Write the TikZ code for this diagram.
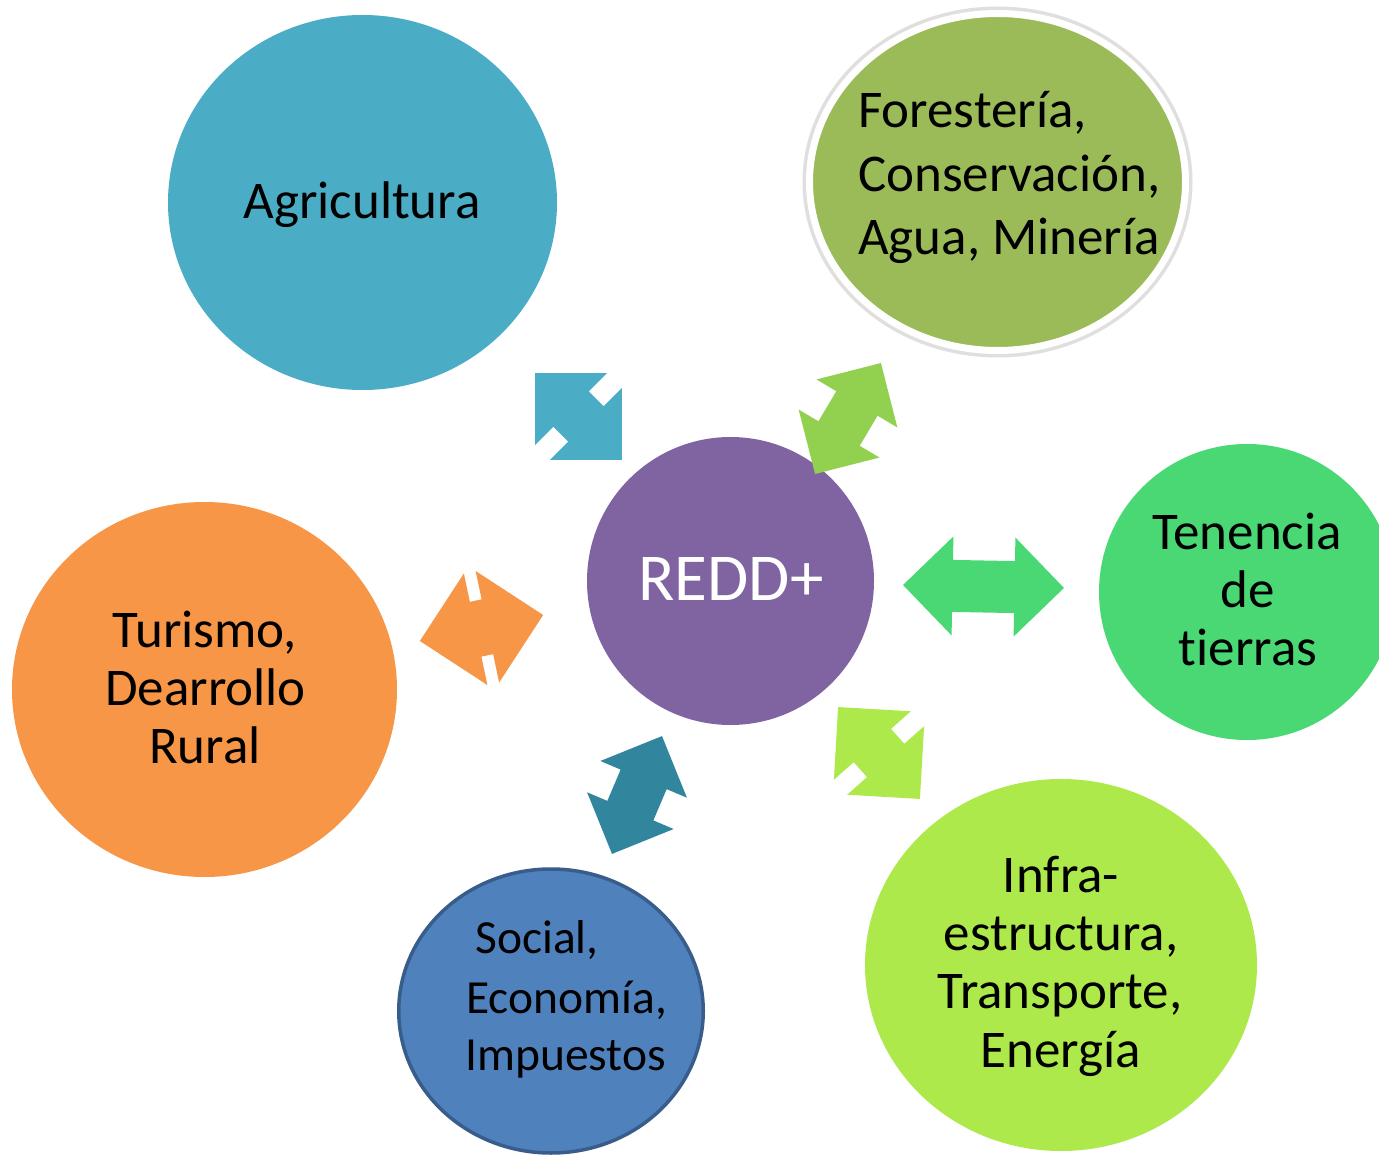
\documentclass[tikz,border=0pt]{standalone}
\usepackage{fontspec}
\setmainfont{Carlito}[Ligatures=NoCommon]
\usetikzlibrary{shapes.geometric}
\definecolor{agri}{HTML}{4BACC6}
\definecolor{forest}{HTML}{9BBB59}
\definecolor{forestarrow}{HTML}{92D050}
\definecolor{tenencia}{HTML}{4AD874}
\definecolor{redd}{HTML}{8064A2}
\definecolor{turismo}{HTML}{F79646}
\definecolor{social}{HTML}{4F81BD}
\definecolor{socialborder}{HTML}{385D8A}
\definecolor{socialarrow}{HTML}{31859C}
\definecolor{infra}{HTML}{ADE94A}
\tikzset{
  bubble/.style={ellipse, inner sep=0pt, draw=none},
  lbl/.style={font=\fontsize{53}{63}\selectfont, inner sep=0pt, anchor=base, text=black},
  lblsmall/.style={font=\fontsize{47.5}{57}\selectfont, inner sep=0pt, anchor=base west, text=black},
}
% #1 centre, #2 angle, #3 half length, #4 head half width (=head length), #5 shaft half width, #6 colour
\newcommand{\blockarrow}[6]{%
  \begin{scope}[shift={(#1)}, rotate=#2]
    \fill[#6] (-#3,0) -- ({-#3+#4},#4) -- ({-#3+#4},#5) -- ({#3-#4},#5) -- ({#3-#4},#4) -- (#3,0)
      -- ({#3-#4},-#4) -- ({#3-#4},-#5) -- ({-#3+#4},-#5) -- ({-#3+#4},-#4) -- cycle;
  \end{scope}}
\begin{document}
\begin{tikzpicture}[x=1pt,y=1pt]
\useasboundingbox (0,0) rectangle (1379,-1155);
\clip (0,0) rectangle (1379,-1155);
\fill[white] (0,0) rectangle (1379,-1155);

% bubbles
\node[bubble, fill=agri, minimum width=389, minimum height=375] (agri) at (362.5,-202.5) {};
\node[bubble, draw=gray!25, line width=4pt, minimum width=386, minimum height=347] (forestshadow) at (997.5,-182) {};
\node[bubble, fill=forest, draw=white, line width=7pt, minimum width=376, minimum height=337] (forest) at (997.5,-182) {};
\node[bubble, fill=tenencia, minimum width=296, minimum height=296] (ten) at (1247,-592) {};
\node[bubble, fill=redd, minimum width=287, minimum height=288] (redd) at (730.5,-581) {};
\node[bubble, fill=turismo, minimum width=385, minimum height=375] (tur) at (204.5,-689.5) {};
\node[bubble, fill=social, draw=socialborder, line width=3.5pt, minimum width=304.5, minimum height=284] (soc) at (551,-1011) {};
\node[bubble, fill=infra, minimum width=392, minimum height=372] (inf) at (1061,-965) {};

% double block arrows
\blockarrow{578.5,-416.5}{-45}{61.5}{51}{25}{agri}
\blockarrow{848,-418.5}{59.3}{64.5}{47}{24}{forestarrow}
\blockarrow{983.5,-586.5}{-1.07}{80.5}{49.5}{26}{tenencia}
\blockarrow{481.5,-628}{11.9}{63}{57}{28}{turismo}
\blockarrow{637,-795}{67}{64}{47}{25}{socialarrow}
\blockarrow{879,-753}{-48.3}{61.5}{51.5}{25}{infra}

% labels
\node[lbl] (tagri) at (362,-219) {Agricultura};

\node[lbl, anchor=base west] (tfor1) at (858,-128) {Forestería,};
\node[lbl, anchor=base west] (tfor2) at (858,-192) {Conservación,};
\node[lbl, anchor=base west] (tfor3) at (858,-255) {Agua, Minería};

\node[lbl] (tten1) at (1247,-549) {Tenencia};
\node[lbl] (tten2) at (1248,-607) {de};
\node[lbl] (tten3) at (1248,-665) {tierras};

\node[lbl, text=white, font=\fontsize{67}{80}\selectfont] (tredd) at (731,-600) {REDD+};

\node[lbl] (ttur1) at (205,-647) {Turismo,};
\node[lbl] (ttur2) at (205.5,-705) {Dearrollo};
\node[lbl] (ttur3) at (205,-763) {Rural};

\node[lblsmall] (tsoc1) at (475,-953) {Social,};
\node[lblsmall] (tsoc2) at (466,-1013) {Economía,};
\node[lblsmall] (tsoc3) at (465,-1070) {Impuestos};

\node[lbl] (tinf1) at (1061,-892) {Infra-};
\node[lbl] (tinf2) at (1061,-950) {estructura,};
\node[lbl] (tinf3) at (1060,-1008) {Transporte,};
\node[lbl] (tinf4) at (1061,-1067) {Energía};
\end{tikzpicture}
\end{document}
